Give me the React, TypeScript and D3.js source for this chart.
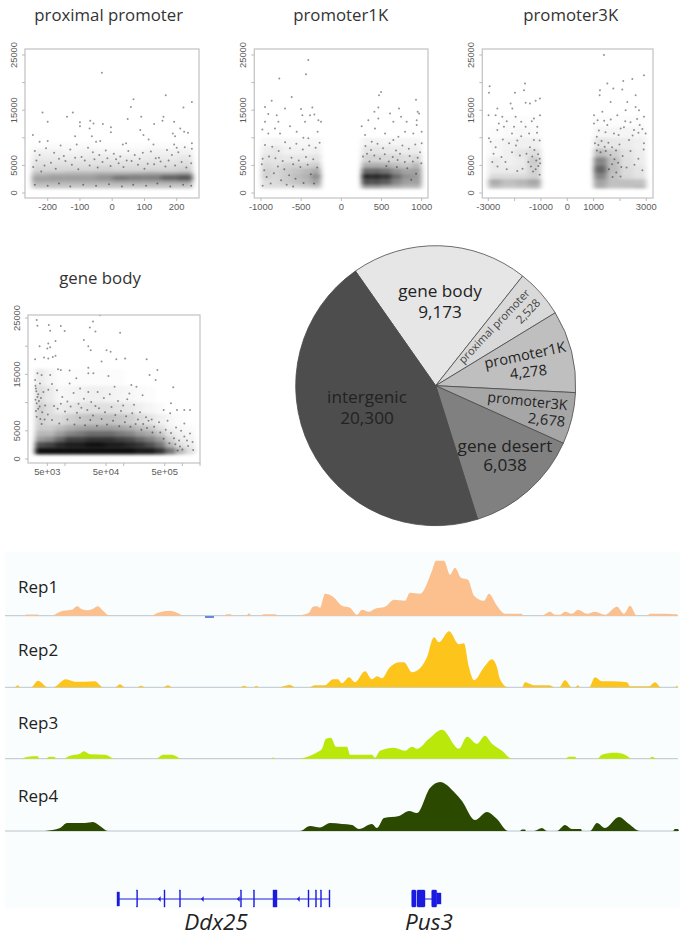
import React from "react";
import * as d3 from "d3";

const W = 684, H = 936;
const SANS = "'Open Sans', sans-serif";
const AXISF = "'Liberation Sans', Arial, sans-serif";

// ---------- scatter: y axis
const yTicks = [0, 5000, 10000, 15000, 20000, 25000];
const yTickLabels = ["0", "5000", "", "15000", "", "25000"];

// ---------- proximal promoter (distance, signal): individually read points
const proximalPoints: number[][] = [
  [-32,21800],[-216,14600],[-200,12900],[-122,14600],[-140,13800],[-100,12800],[-100,12100],[-246,10500],[-225,9300],[-200,9400],
  [-115,10300],[-68,13100],[-70,11700],[-58,12600],[-63,10300],[-29,12500],[-4,11900],[-4,11000],[-37,9400],[-50,9300],
  [48,13400],[58,15600],[66,17000],[90,13800],[87,11400],[97,10500],[113,9700],[130,12500],[128,8800],[156,13100],
  [159,13800],[166,17700],[221,15500],[247,16500],[192,12900],[211,11700],[188,10800],[195,10300],[223,11100],[235,10900],
  [247,9000],[247,8000],[200,8200],[192,8800],[43,9000],[33,8800],
  [-240,7600],[-225,6900],[-205,8100],[-180,7300],[-160,8600],[-150,6700],[-130,7900],[-110,8800],[-95,6500],[-75,8200],
  [-60,7400],[-40,6900],[-20,7700],[5,7100],[25,6600],[50,7600],[70,6900],[95,7300],[120,7500],[145,6400],
  [170,7800],[185,6900],[205,7400],[225,8300],[240,6700],[-235,5900],[-190,5500],[-145,5800],[-85,5900],[-30,5600],
  [20,5400],[60,5800],[110,5300],[150,5700],[215,5600],
  [-245,4700],[-220,3900],[-210,5000],[-175,4400],[-165,6200],[-125,5100],[-115,6400],[-105,4300],[-70,5000],[-55,6100],
  [-45,4600],[-15,6300],[-5,4900],[12,6100],[35,4700],[45,5900],[80,5100],[85,6200],[100,4400],[130,5200],
  [135,6300],[165,4800],[175,5900],[195,5000],[230,4600],[245,5400],[-240,1500],[-200,1300],[-165,1700],[-130,1200],
  [-90,1500],[-50,1300],[-10,1600],[30,1200],[65,1500],[105,1300],[140,1700],[180,1200],[220,1500],[245,1300],
];
const proximalEdges = [800,1500,2000,2500,3000,3500,4000,5000,6000,7000,8000,9000];
const proximalDensity: number[][] = [
  [22,22,22,22,22,22,22,22,22,22],
  [28,28,28,28,28,30,30,30,30,30],
  [36,36,36,36,38,42,42,42,45,50],
  [38,40,40,40,45,60,55,55,70,75],
  [30,35,35,35,40,42,45,45,50,55],
  [22,22,25,25,25,25,25,27,25,27],
  [15,15,15,15,17,15,15,15,15,17],
  [11,11,11,11,11,11,11,11,11,12],
  [8,8,7,8,8,7,7,8,8,9],
  [5,5,4,5,4,3,4,5,5,5],
  [1,2,2,2,1,1,1,2,2,2],
];

// ---------- promoter1K
const promoter1Points: number[][] = [
  [-411,24100],[-440,21500],[-772,20750],[-618,17400],[-867,16700],[-950,15600],[-502,15200],[-701,15300],[-361,15500],[-909,14300],
  [-805,14100],[-485,14100],[-390,14100],[-336,14200],[-950,12900],[-784,12900],[-452,12900],[-286,13200],[-253,12900],[-983,11500],
  [-826,11700],[-639,12100],[-763,10800],[-909,10800],[-556,11100],[-473,10000],[-411,9900],[-295,11100],
  [494,18300],[469,17700],[929,16900],[460,15500],[718,15300],[411,14700],[606,14400],[743,13800],[950,14700],[967,14400],
  [253,12100],[336,13200],[460,13500],[419,11700],[647,12900],[813,12900],[938,13200],[1000,11100],[295,10500],[544,10800],
  [793,11100],[710,10200],[896,10800],[938,12300],[1000,9000],[378,9300],[647,9600],
  [-950,8700],[-860,8400],[-780,7600],[-700,9200],[-640,8100],[-560,8900],[-480,7900],[-400,8600],[-320,8200],[-270,9100],
  [-980,6200],[-900,6600],[-820,6300],[-730,5800],[-620,6400],[-530,5900],[-440,6500],[-350,6100],
  [300,8500],[370,7800],[450,8900],[520,8100],[600,9000],[680,7700],[760,8600],[840,8000],[920,8800],[980,7400],
  [-990,5200],[-960,4100],[-930,2900],[-880,1700],[-840,3600],[-790,4800],[-750,2300],[-710,4300],[-680,1500],[-650,3200],
  [-600,5200],[-570,2600],[-510,4700],[-470,1800],[-420,5100],[-380,3400],[-340,1700],[-300,4600],[-980,1300],[-600,1200],
  [270,6600],[320,7100],[350,5700],[410,6800],[480,6200],[540,7000],[590,5700],[640,6500],[700,6000],[730,7100],
  [790,5600],[850,6700],[890,5700],[950,6400],[995,5400],[560,4900],[690,4700],[820,4500],[930,3500],[870,2400],
];
const promoter1Edges = [800,1500,2500,3500,4500,5500,7000,8500,10000];
const promoter1Density: number[][] = [
  [12,12,12,15,18,22,0,0,0,0,40,40,35,32,28,28],
  [13,15,20,23,28,36,0,0,0,0,70,70,65,48,38,38],
  [18,16,20,26,30,45,0,0,0,0,85,85,80,58,43,40],
  [18,16,20,23,28,33,0,0,0,0,60,60,55,43,36,38],
  [15,12,17,17,17,20,0,0,0,0,32,32,30,25,22,28],
  [11,10,9,9,9,11,0,0,0,0,17,17,15,15,13,15],
  [7,9,5,5,5,6,0,0,0,0,10,10,9,8,7,7],
  [3,4,3,3,3,3,0,0,0,0,5,5,4,4,4,4],
];

// ---------- promoter3K
const promoter3Points: number[][] = [
  [1392,24980],[2911,21350],[2468,20630],[2126,20270],[-1608,19840],[1519,19840],[-2949,19360],[-2975,18150],[-1987,18150],[-1645,18630],
  [1240,18630],[1747,18940],[1228,17730],[2089,18750],[2595,17730],[-1038,17100],[-1203,16700],[-2152,16200],[-1582,16340],[-1418,16200],
  [-2089,15300],[-2658,15300],[1646,16500],[2278,16500],[2595,15600],[2722,15000],[2911,13800],[-2990,14100],[-2722,14100],[-2468,13800],
  [-1962,13800],[-1266,13500],[-1038,14100],[1013,14100],[1329,14700],[1899,14100],[2215,15000],[-2405,12000],[-2658,11400],[-2025,12000],
  [-1582,12000],[-1139,12000],[-2911,9300],[-2975,9900],[-2722,8300],[1013,12600],[1519,12300],[2025,11700],[2532,11400],[2975,10800],
  [1772,10800],[2342,9600],[2911,9000],[-2215,9000],[-1899,9500],[-1266,9600],[-2848,5600],
  [-2600,12600],[-2300,13000],[-1750,12900],[-1350,13000],[-2100,10800],[-1750,10300],[-1450,10800],[-1150,10900],[-2450,9700],[-1050,9500],
  [1150,13200],[1400,13100],[1650,13300],[2200,13000],[2400,12800],[2750,12300],[2650,13400],[1200,11300],[1450,11000],[1950,10500],
  [2150,11900],[2700,10900],[2850,11600],[2480,10400],[1120,10200],
  [-2800,7100],[-2500,6500],[-2350,5600],[-2100,7400],[-1950,8600],[-1800,6800],[-2650,4800],[-2300,4300],[-1900,4000],[-1700,4400],
  [2100,6700],[2400,7600],[2700,6200],[2900,7900],[2550,5100],[2250,4600],[2850,4100],
  [-1550,7100],[-1420,8300],[-1330,6600],[-1250,7800],[-1180,5900],[-1110,7000],[-1050,6200],[-1480,5600],[-1380,4800],[-1200,4300],
  [-1100,4900],[-1030,5400],[-1300,3900],[-1050,3300],
  [1050,9000],[1180,8700],[1300,9400],[1420,8400],[1560,9100],[1700,8300],[1850,7700],[1980,8800],[1120,7700],[1260,7400],
  [1460,7600],[1640,6900],[1790,6100],[1930,5500],[2050,4700],[1700,5200],[1580,4300],[1860,3700],[2020,3000],[1720,2900],
];
const promoter3Edges = [800,1500,2500,3500,5000,6500,8000,10000,12000,14000];
const promoter3Density: number[][] = [
  [26,22,24,28,0,0,0,0,33,24,25,28],
  [33,25,29,35,0,0,0,0,36,25,25,24],
  [14,14,14,18,0,0,0,0,48,24,15,11],
  [8,8,9,18,0,0,0,0,60,26,14,10],
  [8,6,8,20,0,0,0,0,48,25,12,8],
  [3,6,10,13,0,0,0,0,26,19,11,7],
  [3,5,6,6,0,0,0,0,11,9,8,6],
  [1,2,3,2,0,0,0,0,4,4,4,3],
  [0,1,1,1,0,0,0,0,1,1,1,1],
];

// ---------- gene body (gene length, signal)
const geneBodyPoints: number[][] = [
  [3300,24650],[3400,23640],[5300,23760],[5600,22750],[8500,23580],[9900,22700],[3700,20000],[30000,24400],[26500,23300],[33000,22600],
  [87000,22400],[39500,25500],[21000,21100],[25000,20000],[27500,19300],[51000,19300],[60000,19000],[5600,19800],[5000,19600],[6900,20900],
  [5200,20500],[6200,18100],[6900,18300],[4400,18000],[3100,17700],[5200,17800],[75000,17700],[106000,17800],[246000,17700],[7600,15900],
  [8500,15800],[25000,16200],[42000,17300],[375000,15800],[276000,14900],[700000,12700],[350000,14000],[55000,14700],[30500,15200],[25000,15200],
  [12000,15700],[15600,14300],[3400,15200],[4000,14900],[5600,14900],[3100,14000],[3750,13400],[7300,12200],[12000,13400],[18100,12500],
  [25000,11900],[36000,11900],[70000,12800],[135000,13100],[165000,12800],[125000,11600],[210000,11300],[640000,9900],[1350000,8700],[1080000,8700],
  [810000,8700],[480000,8700],[620000,8100],[1080000,6300],[1350000,4500],[1490000,3000],[1530000,1600],[1080000,4000],[910000,2200],
  [3200,12500],[3500,11500],[3900,10800],[4300,11900],[3300,9900],[3700,9300],[4600,9500],[5200,12300],[6000,13300],[3200,8500],
  [4100,8300],[5100,7900],[9000,11000],[11000,10200],[14000,11700],[17000,9800],[21000,10700],[28000,10100],[33000,9400],[46000,10800],
  [58000,11500],[80000,10300],[98000,9500],[115000,10600],[150000,9600],[190000,8300],[240000,7400],[300000,7000],[400000,6500],[560000,6800],
  [780000,5600],[950000,5000],[1200000,3300],[1250000,2300],[720000,3700],[880000,3300],
  [3150,13000],[3250,12000],[3400,11000],[3600,10300],[3150,10500],[3500,8900],[3300,7500],[3800,7100],[4500,7000],[4000,6200],
  [6500,9400],[7500,8900],[8500,9800],[10000,8400],[12500,9300],[16000,8200],[19000,9100],[24000,8700],[30000,7700],[38000,9000],
  [48000,8300],[62000,9200],[72000,7800],[90000,8500],[110000,7600],[140000,8100],[175000,7000],[215000,6200],[265000,6800],[330000,5700],
  [6000,6900],[8000,6300],[11000,7000],[14500,6100],[18000,7300],[22000,6000],[27000,6900],[35000,5900],[42000,7100],[52000,6100],
  [66000,6800],[84000,5800],[105000,6500],[130000,5700],[160000,6200],[200000,5200],[250000,5500],[310000,4700],[420000,4700],[520000,5200],
  [640000,4600],[480000,3600],[600000,2800],[760000,2600],[1000000,1700],[830000,1500],
];
const geneBodyCols = d3.range(17);
const geneBodyColEdges = geneBodyCols.map((i) => 3080 * Math.pow(10, (i * 30) / 176));
const geneBodyRowEdges = [800,2000,3000,4000,5000,6000,8000,10000,13000,16000];
const geneBodyDensity: number[][] = [
  [95,95,95,95,95,95,95,95,95,95,90,90,80,55,28,12],
  [70,75,85,90,90,95,95,90,90,85,80,70,55,28,12,7],
  [40,45,60,75,75,80,80,80,75,70,60,50,38,18,8,5],
  [28,28,38,48,52,58,58,58,52,48,38,33,22,10,5,3],
  [20,20,26,32,36,38,38,38,36,32,26,21,12,5,3,2],
  [18,14,14,19,22,24,24,24,22,19,14,10,6,3,1,0],
  [18,12,7,9,11,12,12,12,11,9,6,4,2,0,0,0],
  [13,8,3,4,5,6,6,5,4,3,2,1,0,0,0,0],
  [8,4,1,1,1,1,1,1,1,0,0,0,0,0,0,0],
];
const geneBodyXTicks = [5000, 10000, 50000, 100000, 500000, 1000000, 2000000];
const geneBodyXLabels = ["5e+03", "", "5e+04", "", "5e+05", "", ""];

// ---------- pie
const pieNames = ["gene body", "proximal promoter", "promoter1K", "promoter3K", "gene desert", "intergenic"];
const pieValues = [9173, 2528, 4278, 2678, 6038, 20300];
const pieColors = ["#e6e6e6", "#d9d9d9", "#bfbfbf", "#a6a6a6", "#808080", "#4d4d4d"];

// ---------- tracks: [genome position, signal]
const rep1Signal: number[][] = [
  [25,0],[26,1.3],[38,1.3],[39,0],[52,0],[57,2.5],[63,5],[72,6],[77,9.5],[82,6.5],[87,5.5],[92,6.5],[98,9.5],[103,5],[110,0],
  [151,0],[158,3],[170,5],[176,3.5],[182,.5],[183,0],[225,0],[226,1.5],[231,1.5],[232,0],[246,0],[249,2.5],[252,0],[262,0],[263,1.5],[276,1.5],[277,0],
  [297,0],[305,1.5],[309,3],[313,9],[317,9.5],[320,8],[325,22],[333,19],[342,10],[350,8],[357,1],[362,6],[369,4],[375,7],[385,9],[394,16],[405,15],[410,23],[420,22],
  [432,45],[436,55],[444,55],[450,41],[455,48],[461,38],[468,36],[474,20],[484,15],[489,22],[497,10],[505,2],[522,2],[523,0],
  [540,0],[544,1],[550,4],[555,1],[560,1],[565,4],[572,2],[578,6],[587,2],[595,4],[605,1],[617,9],[624,2],[630,10],[637,0],[647,0],[650,2],[677,1.5],[678,0],
];
const rep2Signal: number[][] = [
  [15,0],[18,2],[20,0],[31,0],[38,6.5],[48,0],[53,0],[66,8],[75,5.5],[85,5.5],[95,6],[103,0],[115,0],[120,3],[125,0],[137,0],[141,1.5],[145,0],[163,0],[168,2],[172,0],
  [240,0],[244,1.5],[248,0],[254,0],[256,1.5],[259,0],[279,0],[290,2.5],[295,0],[309,0],[315,2],[325,2],[333,8],[338,8],
  [342,4],[349,10],[355,5],[365,16],[372,8],[377,11],[382,9],[389,19],[399,25],[404,25],[412,15],[420,19],[427,30],[434,50],[439,45],[449,56],[459,43],[464,44],[469,20],[474,7],[484,20],[492,28],[497,20],[500,8],[508,0],
  [522,0],[525,5],[534,2],[542,2],[549,2],[555,0],[559,0],[565,7],[572,0],[575,0],[578,2],[580,0],[589,0],[595,10],[602,6],[612,6],[627,5],[630,1],[649,1],[655,5],[661,0],[675,0],[677,1.5],[678,0],
];
const rep3Signal: number[][] = [
  [22,0],[28,2],[38,2.5],[39,0],[45,0],[50,2],[55,1.5],[56,0],[63,0],[70,3],[80,5],[84,7.5],[90,4.5],[105,4],[115,0],[156,0],[163,4],[172,4],[182,0],[272,0],[273,1.5],[275,0],
  [298,0],[310,3],[318,7],[322,10],[326,20],[331,21],[336,12],[342,12],[347,12],[350,4],[372,4],[375,1],[380,8],[394,11],[405,8],[412,12],[417,10],[429,20],[442,29],[459,10],[467,22],[477,15],[485,23],[492,15],[502,8],[512,0],
  [565,0],[569,2],[575,2],[577,0],[597,0],[602,4],[615,6],[625,4],[632,0],[649,0],[652,2],[656,0],
];
const rep4Signal: number[][] = [
  [45,0],[60,3],[67,8],[85,8],[93,9],[100,5],[108,0],[300,0],[310,5],[320,3.5],[330,8],[342,7],[352,6],[359,2],[372,7],[377,3],[384,13],[399,15],[409,20],[417,18],[430,43],[440,49],[455,38],[462,30],[475,11],[487,19],[497,12],[508,0],
  [520,0],[522,1.5],[525,1.5],[526,0],[534,0],[542,3],[547,0],[557,0],[565,6],[572,2],[581,2],[582,0],[590,0],[597,8],[605,3],[619,14],[629,7],[640,0],[673,0],[675,2],[678,2],[679,0],
];
const trackNames = ["Rep1", "Rep2", "Rep3", "Rep4"];
const trackSignals = [rep1Signal, rep2Signal, rep3Signal, rep4Signal];
const trackColors = ["#fcc08f", "#fdc51c", "#bae80a", "#2b4a00"];

// ---------- genes: exon [start, end]
const ddx25Exons: number[][] = [[117,119.5],[136.7,137.7],[164,165],[179.5,180.5],[240.5,241.5],[253.5,254.5],[273,277],[308,309],[315.5,316.5],[320.5,321.5],[329,330]];
const ddx25Introns = [158, 201, 237, 297];
const pus3Exons: number[][] = [[411.7,416],[417,425],[431.7,436.7]];
const pus3TailExon = [436.7, 441];

function Scatter({ box, title, titleX, titleY, x, xTicks, xLabels, y, yLabels, points, colEdges, rowEdges, density, labelX }: any) {
  const [x0, y0, x1, y1] = box;
  const id = "c" + Math.round(x0) + "_" + Math.round(y0);
  return (
    <g>
      <text x={titleX} y={titleY} textAnchor="middle" fontFamily={SANS} fontSize={16.8} fill="#333">{title}</text>
      <clipPath id={id}><rect x={x0} y={y0} width={x1 - x0} height={y1 - y0} /></clipPath>
      <g clipPath={`url(#${id})`}>
        <g filter="url(#soft)">
          {density.map((row: number[], r: number) =>
            row.map((d: number, c: number) =>
              d > 0 ? (
                <rect key={r + "-" + c} x={x(colEdges[c])} width={x(colEdges[c + 1]) - x(colEdges[c])}
                  y={y(rowEdges[r + 1])} height={y(rowEdges[r]) - y(rowEdges[r + 1])} fill="#000" fillOpacity={d / 100} />
              ) : null
            )
          )}
        </g>
        <g filter="url(#dot)">
          {points.map((p: number[], i: number) => (
            <circle key={i} cx={x(p[0])} cy={y(p[1])} r={1} fill="#000" fillOpacity={0.42} />
          ))}
        </g>
      </g>
      <rect x={x0} y={y0} width={x1 - x0} height={y1 - y0} fill="none" stroke="#c6c6c6" strokeWidth={1.3} />
      {xTicks.map((t: number, i: number) => (
        <g key={i}>
          <line x1={x(t)} x2={x(t)} y1={y1} y2={y1 + 3} stroke="#bbb" />
          {xLabels[i] ? <text x={x(t)} y={y1 + 11.5} textAnchor="middle" fontFamily={AXISF} fontSize={9.4} fill="#5a5a5a">{xLabels[i]}</text> : null}
        </g>
      ))}
      {yTicks.map((t, i) => (
        <g key={i}>
          <line x1={x0 - 3} x2={x0} y1={y(t)} y2={y(t)} stroke="#bbb" />
          {yLabels[i] ? <text transform={`translate(${labelX},${y(t)}) rotate(-90)`} textAnchor="middle" fontFamily={AXISF} fontSize={9.4} fill="#5a5a5a">{yLabels[i]}</text> : null}
        </g>
      ))}
    </g>
  );
}

const PieLabel = ({ x, y, rot = 0, size, children, fill = "#222" }: any) => (
  <text transform={`translate(${x},${y}) rotate(${rot})`} textAnchor="middle" fontFamily={SANS} fontSize={size} fill={fill}>{children}</text>
);

export default function App() {
  const yTop = d3.scaleLinear().domain([0, 25000]).range([193, 55]);
  const yGene = d3.scaleLinear().domain([0, 25000]).range([459, 318]);

  const xProx = d3.scaleLinear().domain([-200, 200]).range([47.7, 176.7]);
  const xP1 = d3.scaleLinear().domain([-1000, 1000]).range([261, 421.7]);
  const xP3 = d3.scaleLinear().domain([-3000, 3000]).range([488.3, 646.3]);
  const xGene = d3.scaleLog().domain([5000, 500000]).range([47.3, 164.7]);

  const pie = d3.pie<number>().sort(null).startAngle((-35 * Math.PI) / 180).endAngle((325 * Math.PI) / 180);
  const arc = d3.arc<d3.PieArcDatum<number>>().innerRadius(0).outerRadius(140);
  const arcs = pie(pieValues);

  const xTrack = d3.scaleLinear().domain([0, 684]).range([0, 684]);
  const baselines = [615.7, 687.3, 758.7, 831];
  const labelYs = [593, 656, 729, 802];

  const range = (a: number, b: number, n: number) => d3.range(n + 1).map((i) => a + ((b - a) * i) / n);

  return (
    <svg width={W} height={H} viewBox={`0 0 ${W} ${H}`} style={{ position: "absolute", left: 0, top: 0, background: "#fff" }}>
      <defs>
        <filter id="soft" x="-5%" y="-5%" width="110%" height="110%"><feGaussianBlur stdDeviation="2.4 1.5" /></filter>
        <filter id="dot" x="-5%" y="-5%" width="110%" height="110%"><feGaussianBlur stdDeviation="0.35" /></filter>
      </defs>

      <Scatter box={[25, 49, 199, 198]} title="proximal promoter" titleX={108.7} titleY={20.5} x={xProx} y={yTop}
        xTicks={[-200, -100, 0, 100, 200]} xLabels={["-200", "-100", "0", "100", "200"]} yLabels={yTickLabels}
        points={proximalPoints} colEdges={range(-250, 250, 10)} rowEdges={proximalEdges} density={proximalDensity} labelX={17} />
      <Scatter box={[254.3, 49, 428, 198]} title="promoter1K" titleX={340.7} titleY={20.5} x={xP1} y={yTop}
        xTicks={[-1000, -500, 0, 500, 1000]} xLabels={["-1000", "-500", "0", "500", "1000"]} yLabels={yTickLabels}
        points={promoter1Points} colEdges={range(-1000, 1000, 16)} rowEdges={promoter1Edges} density={promoter1Density} labelX={246} />
      <Scatter box={[482.3, 49, 653, 198]} title="promoter3K" titleX={570.7} titleY={20.5} x={xP3} y={yTop}
        xTicks={[-3000, -2000, -1000, 0, 1000, 2000, 3000]} xLabels={["-3000", "", "-1000", "0", "1000", "", "3000"]} yLabels={yTickLabels}
        points={promoter3Points} colEdges={range(-3000, 3000, 12)} rowEdges={promoter3Edges} density={promoter3Density} labelX={474} />
      <Scatter box={[28, 315, 200, 463]} title="gene body" titleX={100} titleY={284} x={xGene} y={yGene}
        xTicks={geneBodyXTicks} xLabels={geneBodyXLabels} yLabels={yTickLabels}
        points={geneBodyPoints} colEdges={geneBodyColEdges} rowEdges={geneBodyRowEdges} density={geneBodyDensity} labelX={20} />

      <g transform="translate(435.7,385.7)">
        {arcs.map((a, i) => (
          <path key={pieNames[i]} d={arc(a) as string} fill={pieColors[i]} stroke="#4a4a4a" strokeWidth={0.8} />
        ))}
      </g>
      <PieLabel x={440} y={297} size={17.2}>gene body</PieLabel>
      <PieLabel x={440} y={317.5} size={17.2}>9,173</PieLabel>
      <PieLabel x={497} y={329} rot={-46.5} size={11} fill="#444">proximal promoter</PieLabel>
      <PieLabel x={531} y={314} rot={-46.5} size={11.5} fill="#444">2,528</PieLabel>
      <PieLabel x={526} y={360} rot={-12} size={14.6}>promoter1K</PieLabel>
      <PieLabel x={529} y={377} rot={-7} size={14.6}>4,278</PieLabel>
      <PieLabel x={527} y={406} rot={6} size={14.2}>promoter3K</PieLabel>
      <PieLabel x={546} y={425} rot={6} size={14.6}>2,678</PieLabel>
      <PieLabel x={505} y={451.5} size={17.2}>gene desert</PieLabel>
      <PieLabel x={505} y={471} size={17.2}>6,038</PieLabel>
      <PieLabel x={367} y={403} size={17.2}>intergenic</PieLabel>
      <PieLabel x={367} y={424} size={17.2}>20,300</PieLabel>

      <rect x={5} y={552} width={675} height={356} fill="#fafdfd" />
      {trackNames.map((name, i) => {
        const area = d3.area<number[]>().x((d) => xTrack(d[0])).y0(baselines[i]).y1((d) => baselines[i] - d[1]).curve(d3.curveMonotoneX);
        return (
          <g key={name}>
            <line x1={5} x2={678} y1={baselines[i]} y2={baselines[i]} stroke="#b9c5cc" strokeWidth={1} />
            <path d={area(trackSignals[i]) as string} fill={trackColors[i]} />
            <text x={18} y={labelYs[i]} fontFamily={SANS} fontSize={17} fill="#222">{name}</text>
          </g>
        );
      })}
      <rect x={xTrack(205)} width={xTrack(214) - xTrack(205)} y={616} height={2} fill="#6688dd" />

      <g stroke="#1a1ae0" fill="#1a1ae0">
        <line x1={xTrack(117)} x2={xTrack(330)} y1={899} y2={899} strokeWidth={1} />
        {ddx25Exons.map((e, i) => (
          <rect key={i} x={xTrack(e[0])} width={xTrack(e[1]) - xTrack(e[0])} y={i === 0 ? 892 : 890} height={i === 0 ? 14 : 17} strokeWidth={0.4} />
        ))}
        {ddx25Introns.map((p) => (
          <path key={p} d={`M${xTrack(p)},899 l2.5,-2.5 v5 z`} strokeWidth={0.3} />
        ))}
        <line x1={xTrack(425)} x2={xTrack(432)} y1={899} y2={899} strokeWidth={1} />
        {pus3Exons.map((e, i) => (
          <rect key={i} x={xTrack(e[0])} width={xTrack(e[1]) - xTrack(e[0])} y={890} height={17} rx={1} strokeWidth={0.4} />
        ))}
        <rect x={xTrack(pus3TailExon[0])} width={xTrack(pus3TailExon[1]) - xTrack(pus3TailExon[0])} y={893} height={11} strokeWidth={0.4} />
      </g>
      <text x={216} y={929.5} textAnchor="middle" fontFamily={SANS} fontStyle="italic" fontSize={22.5} fill="#222">Ddx25</text>
      <text x={429} y={929.5} textAnchor="middle" fontFamily={SANS} fontStyle="italic" fontSize={22.5} fill="#222">Pus3</text>
    </svg>
  );
}
